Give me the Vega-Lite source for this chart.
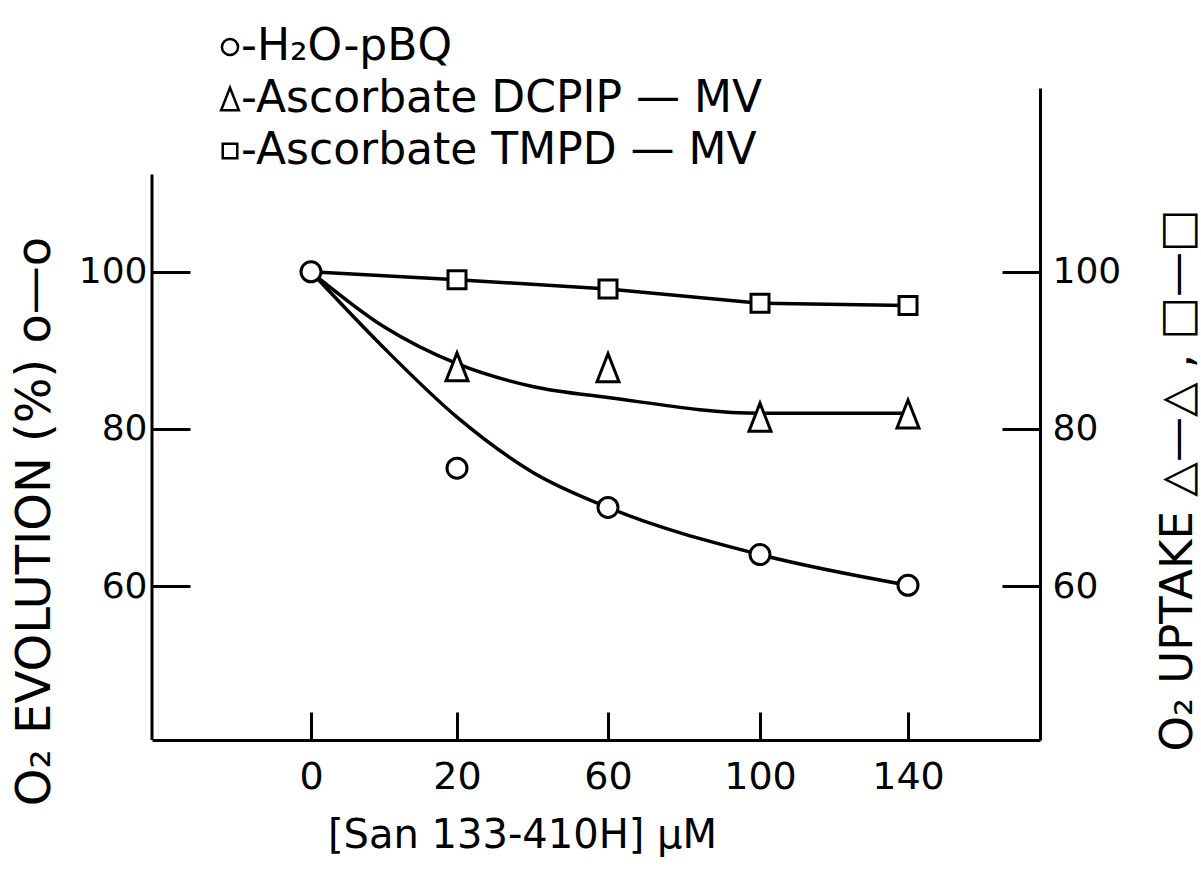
{
  "$schema": "https://vega.github.io/schema/vega-lite/v6.json",
  "width": 888,
  "height": 652,
  "autosize": {"type": "none"},
  "padding": {"left": 152, "top": 88, "right": 161, "bottom": 129},
  "background": "white",
  "datasets": {
    "points": [
      {"series": "H₂O-pBQ", "x": 0, "y": 100},
      {"series": "H₂O-pBQ", "x": 20, "y": 75},
      {"series": "H₂O-pBQ", "x": 60, "y": 70},
      {"series": "H₂O-pBQ", "x": 100, "y": 64},
      {"series": "H₂O-pBQ", "x": 140, "y": 60.1},
      {"series": "Ascorbate DCPIP — MV", "x": 20, "y": 87.9},
      {"series": "Ascorbate DCPIP — MV", "x": 60, "y": 87.8},
      {"series": "Ascorbate DCPIP — MV", "x": 100, "y": 81.5},
      {"series": "Ascorbate DCPIP — MV", "x": 140, "y": 81.9},
      {"series": "Ascorbate TMPD — MV", "x": 20, "y": 99},
      {"series": "Ascorbate TMPD — MV", "x": 60, "y": 97.8},
      {"series": "Ascorbate TMPD — MV", "x": 100, "y": 96},
      {"series": "Ascorbate TMPD — MV", "x": 140, "y": 95.7}
    ],
    "curves": [
      {"series": "H₂O-pBQ", "x": 0, "y": 100},
      {"series": "H₂O-pBQ", "x": 10, "y": 90.3},
      {"series": "H₂O-pBQ", "x": 20, "y": 81.5},
      {"series": "H₂O-pBQ", "x": 40, "y": 74.5},
      {"series": "H₂O-pBQ", "x": 60, "y": 70},
      {"series": "H₂O-pBQ", "x": 100, "y": 64},
      {"series": "H₂O-pBQ", "x": 140, "y": 60.1},
      {"series": "Ascorbate DCPIP — MV", "x": 0, "y": 100},
      {"series": "Ascorbate DCPIP — MV", "x": 10, "y": 93},
      {"series": "Ascorbate DCPIP — MV", "x": 20, "y": 88.3},
      {"series": "Ascorbate DCPIP — MV", "x": 40, "y": 85.4},
      {"series": "Ascorbate DCPIP — MV", "x": 60, "y": 84},
      {"series": "Ascorbate DCPIP — MV", "x": 100, "y": 82},
      {"series": "Ascorbate DCPIP — MV", "x": 140, "y": 82}
    ],
    "straight": [
      {"series": "Ascorbate TMPD — MV", "x": 0, "y": 100},
      {"series": "Ascorbate TMPD — MV", "x": 20, "y": 99},
      {"series": "Ascorbate TMPD — MV", "x": 60, "y": 97.8},
      {"series": "Ascorbate TMPD — MV", "x": 100, "y": 96},
      {"series": "Ascorbate TMPD — MV", "x": 140, "y": 95.7}
    ]
  },
  "layer": [
    {
      "data": {"values": [{}]},
      "mark": {"type": "rule", "color": "black", "strokeWidth": 3},
      "encoding": {
        "x": {"datum": -20, "type": "quantitative", "scale": {"type": "linear", "domain": [-20, 0, 20, 60, 100, 140, 160], "range": [0, 159, 305, 456, 608, 756, 888], "zero": false, "nice": false}},
        "y": {"datum": 40.4, "type": "quantitative", "scale": {"domain": [40.4, 123.4], "zero": false, "nice": false}, "axis": null},
        "y2": {"datum": 112.4}
      }
    },
    {
      "data": {"name": "straight"},
      "mark": {"type": "line", "color": "black", "strokeWidth": 3.5, "interpolate": "linear"},
      "encoding": {
        "x": {"field": "x", "type": "quantitative", "scale": {"type": "linear", "domain": [-20, 0, 20, 60, 100, 140, 160], "range": [0, 159, 305, 456, 608, 756, 888], "zero": false, "nice": false}},
        "y": {"field": "y", "type": "quantitative", "scale": {"domain": [40.4, 123.4], "zero": false, "nice": false}, "axis": null},
        "detail": {"field": "series"}
      }
    },
    {
      "data": {"name": "curves"},
      "mark": {"type": "line", "color": "black", "strokeWidth": 3.5, "interpolate": "monotone"},
      "encoding": {
        "x": {"field": "x", "type": "quantitative", "scale": {"type": "linear", "domain": [-20, 0, 20, 60, 100, 140, 160], "range": [0, 159, 305, 456, 608, 756, 888], "zero": false, "nice": false}},
        "y": {
          "field": "y", "type": "quantitative",
          "scale": {"domain": [40.4, 123.4], "zero": false, "nice": false},
          "axis": {
            "orient": "right", "values": [60, 80, 100], "tickSize": -38, "labelPadding": 50,
            "title": "O₂  UPTAKE  △—△ ,  □—□", "titleAngle": 270, "titleX": 137, "titleY": 392,
            "titleAlign": "center", "titleBaseline": "middle", "titleFontSize": 45
          }
        },
        "detail": {"field": "series"}
      }
    },
    {
      "data": {"name": "points"},
      "mark": {"type": "point", "filled": true, "fill": "white", "stroke": "black", "strokeWidth": 3, "opacity": 1, "size": 400},
      "encoding": {
        "x": {
          "field": "x", "type": "quantitative",
          "scale": {"type": "linear", "domain": [-20, 0, 20, 60, 100, 140, 160], "range": [0, 159, 305, 456, 608, 756, 888], "zero": false, "nice": false},
          "axis": {
            "values": [0, 20, 60, 100, 140], "tickSize": -28, "labelPadding": 46,
            "labelFontSize": 38,
            "title": "[San 133-410H] μM", "titleX": 370, "titleY": 95, "titleAlign": "center", "titleBaseline": "middle", "titleFontSize": 40
          }
        },
        "y": {
          "field": "y", "type": "quantitative",
          "scale": {"domain": [40.4, 123.4], "zero": false, "nice": false},
          "axis": {
            "orient": "left", "values": [60, 80, 100], "domain": false, "tickSize": -38, "labelPadding": 43,
            "title": "O₂ EVOLUTION (%) o—o", "titleAngle": 270, "titleX": -117, "titleY": 433,
            "titleAlign": "center", "titleBaseline": "middle", "titleFontSize": 48
          }
        },
        "shape": {
          "field": "series", "type": "nominal",
          "scale": {
            "domain": ["H₂O-pBQ", "Ascorbate DCPIP — MV", "Ascorbate TMPD — MV"],
            "range": ["circle", "M0,-1.4L1.1,1.4L-1.1,1.4Z", "M-0.9,-0.9H0.9V0.9H-0.9Z"]
          },
          "legend": {
            "orient": "none", "legendX": 56, "legendY": -63, "title": null,
            "labelExpr": "'-' + datum.label", "labelLimit": 0,
            "labelFontSize": 44, "labelFont": "DejaVu Sans", "labelColor": "black",
            "symbolSize": 260, "symbolStrokeWidth": 2.5, "rowPadding": 8, "labelOffset": -11
          }
        }
      }
    }
  ],
  "resolve": {"axis": {"y": "independent"}},
  "config": {
    "view": {"stroke": null},
    "axis": {
      "grid": false,
      "domainColor": "black", "domainWidth": 3,
      "tickColor": "black", "tickWidth": 3,
      "labelColor": "black", "labelFont": "DejaVu Sans", "labelFontSize": 36,
      "titleColor": "black", "titleFont": "DejaVu Sans", "titleFontWeight": "normal"
    }
  }
}
